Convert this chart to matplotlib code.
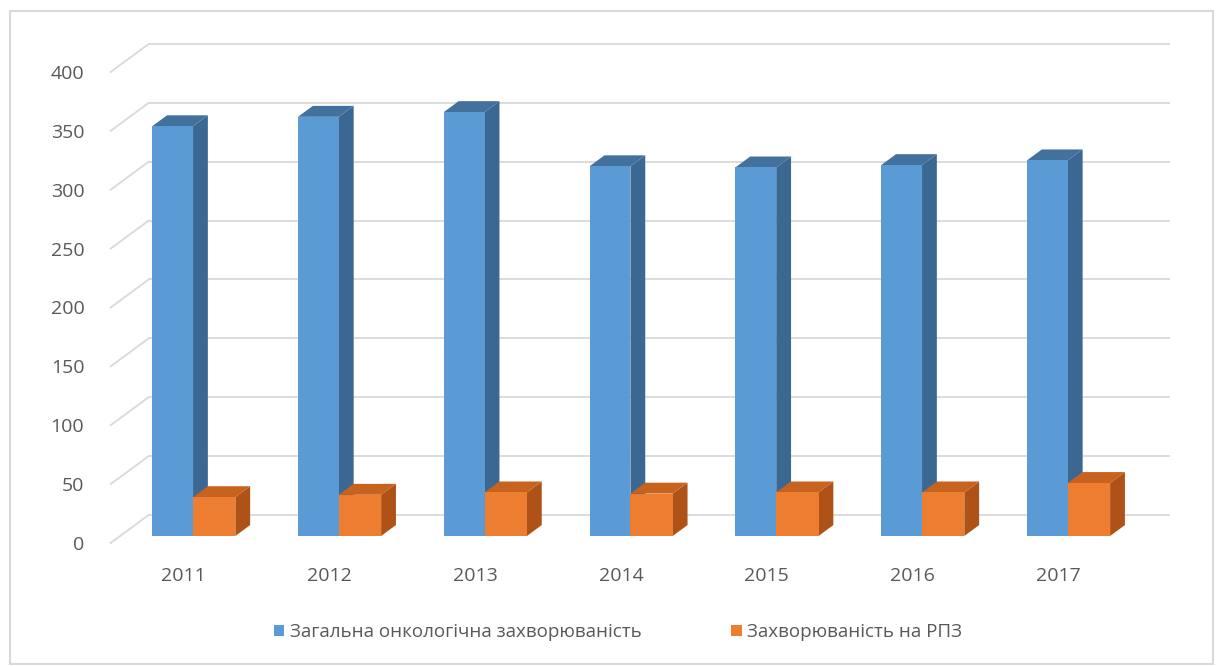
import matplotlib
matplotlib.use('Agg')
import matplotlib.pyplot as plt
from matplotlib.patches import Polygon, Rectangle, Patch

plt.rcParams['font.family'] = ['Open Sans', 'DejaVu Sans']

# data
years = ['2011', '2012', '2013', '2014', '2015', '2016', '2017']
total_cancer = [348, 356, 360, 314, 313, 315, 319]
pz_cancer = [33, 35, 37, 36, 37, 37, 45]
y_ticks = [0, 50, 100, 150, 200, 250, 300, 350, 400]
series_names = ['Загальна онкологічна захворюваність', 'Захворюваність на РПЗ']

BLUE = ('#5b9bd5', '#41719c', '#3a6893')      # front, top, side
ORANGE = ('#ed7d31', '#c8621f', '#ae5218')
GRID = '#d9d9d9'
TEXT = '#595959'

# 3d look: depth vector of the whole floor in data units
DX = 38 / 145.8
DY = 28 / 1.1775
BAR_START = 0.25   # where the bars sit in the depth
BAR_DEPTH = 0.39
BAR_W = 0.28

fig = plt.figure(figsize=(12.24, 6.66), dpi=100)
ax = fig.add_axes([0.0904, 0.1847, 0.8338, 0.7072])
ax.set_xlim(-0.5, len(years) - 0.5)
ax.set_ylim(0, 400)
for s in ax.spines.values():
    s.set_visible(False)
ax.set_xticks([])
ax.set_yticks(y_ticks)
ax.tick_params(axis='y', length=0, pad=19, labelsize=14, labelcolor=TEXT)

# back wall grid and the diagonal lines on the side wall
x_left, x_right = ax.get_xlim()
for v in y_ticks:
    ax.plot([x_left + DX, x_right + DX], [v + DY, v + DY], color=GRID, lw=1.3, clip_on=False, zorder=1)
    ax.plot([x_left, x_left + DX], [v, v + DY], color=GRID, lw=1.3, clip_on=False, zorder=1)


def draw_box(x0, width, value, colors):
    ox, oy = BAR_START * DX, BAR_START * DY
    bx, by = BAR_DEPTH * DX, BAR_DEPTH * DY
    x0 = x0 + ox
    x1 = x0 + width
    front = Polygon([(x0, oy), (x1, oy), (x1, value + oy), (x0, value + oy)],
                    closed=True, facecolor=colors[0], edgecolor='none', clip_on=False, zorder=3)
    top = Polygon([(x0, value + oy), (x1, value + oy), (x1 + bx, value + oy + by), (x0 + bx, value + oy + by)],
                  closed=True, facecolor=colors[1], edgecolor='none', clip_on=False, zorder=3)
    side = Polygon([(x1, oy), (x1 + bx, oy + by), (x1 + bx, value + oy + by), (x1, value + oy)],
                   closed=True, facecolor=colors[2], edgecolor='none', clip_on=False, zorder=3)
    ax.add_patch(side)
    ax.add_patch(top)
    ax.add_patch(front)


for i in range(len(years)):
    draw_box(i - BAR_W, BAR_W, total_cancer[i], BLUE)
    draw_box(i, BAR_W + 0.01, pz_cancer[i], ORANGE)
    ax.text(i, -28, years[i], ha='center', va='center', fontsize=14, color=TEXT)

handles = [Patch(facecolor=BLUE[0]), Patch(facecolor=ORANGE[0])]
fig.legend(handles, series_names, loc='center', bbox_to_anchor=(0.505, 0.051), ncol=2,
           frameon=False, fontsize=13.5, labelcolor=TEXT, handlelength=0.55, handleheight=0.55,
           handletextpad=0.3, columnspacing=4.8)

# chart border
fig.patches.append(Rectangle((10 / 1224, 2 / 666), 1203 / 1224, 653 / 666, transform=fig.transFigure,
                             fill=False, edgecolor=GRID, lw=1.5))

plt.savefig('out.png', dpi=100)
